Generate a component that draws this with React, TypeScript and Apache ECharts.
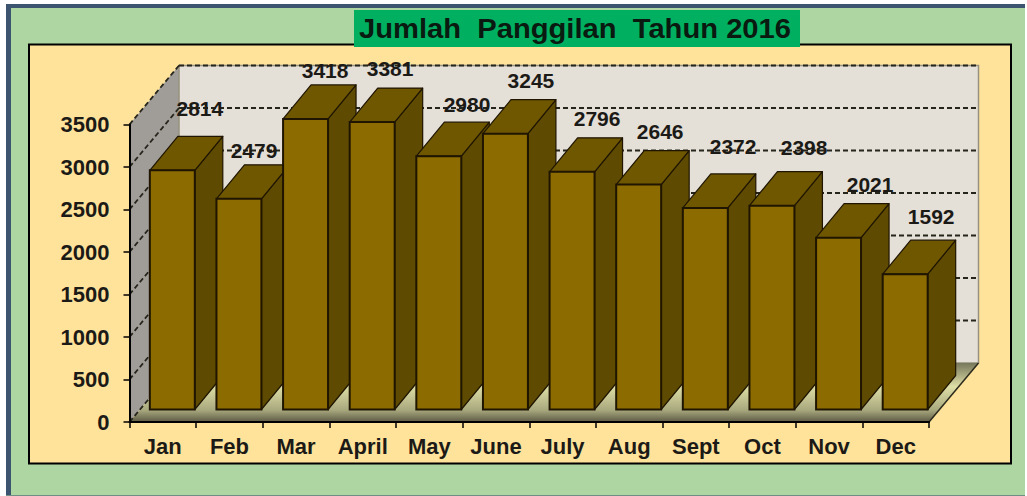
import React, { useEffect, useRef } from "react";
import * as echarts from "echarts";

const months = ["Jan", "Feb", "Mar", "April", "May", "June", "July", "Aug", "Sept", "Oct", "Nov", "Dec"];
const calls = [2814, 2479, 3418, 3381, 2980, 3245, 2796, 2646, 2372, 2398, 2021, 1592];
const gridValues = [0, 500, 1000, 1500, 2000, 2500, 3000, 3500];
const titleText = "Jumlah  Panggilan  Tahun 2016";

// label placement relative to each bar's front-plane top (hand placed in the original)
const labelNudgeX = [37, 24.6, 29, 27.4, 37.7, 35, 34.5, 31, 37.3, 41.7, 41, 35.5];
const labelNudgeY = [-74, -60.6, -60.5, -66.6, -64.7, -65.2, -66.3, -66, -73.4, -70.2, -66, -69.7];

const FONT = '"Liberation Sans", Arial, sans-serif';
const WALL_DX = 49.5;
const WALL_DY = -59;
const BAR_DX = 28;
const BAR_DY = -34;
const BAR_SHIFT_X = 9.5;
const BAR_SHIFT_Y = -12.5;
const BAR_RATIO = 0.675;
const EDGE = "#1f1500";

function renderWalls(params: any) {
  const c = params.coordSys;
  const x0 = c.x, x1 = c.x + c.width, yTop = c.y, yBase = c.y + c.height;
  return {
    type: "group",
    children: [
      {
        type: "polygon",
        shape: { points: [[x0, yTop], [x0 + WALL_DX, yTop + WALL_DY], [x0 + WALL_DX, yBase + WALL_DY], [x0, yBase]] },
        style: { fill: "#a09c97" },
      },
      {
        type: "rect",
        shape: { x: x0 + WALL_DX, y: yTop + WALL_DY, width: c.width, height: c.height },
        style: { fill: "#e4dfd7", stroke: "#97917f", lineWidth: 1.5 },
      },
      {
        type: "polygon",
        shape: { points: [[x0, yBase], [x0 + WALL_DX, yBase + WALL_DY], [x1 + WALL_DX, yBase + WALL_DY], [x1, yBase]] },
        style: {
          fill: {
            type: "linear", x: 0, y: 0, x2: 0, y2: 1,
            colorStops: [
              { offset: 0, color: "#77775c" },
              { offset: 0.4, color: "#dedea6" },
              { offset: 0.8, color: "#a8a87e" },
              { offset: 1, color: "#5c5a44" },
            ],
          },
        },
      },
      {
        type: "line",
        shape: { x1, y1: yBase, x2: x1 + WALL_DX, y2: yBase + WALL_DY },
        style: { stroke: "#2c2a1c", lineWidth: 1.5 },
      },
    ],
  };
}

function renderGridLine(params: any, api: any) {
  const c = params.coordSys;
  const y = api.coord([0, api.value(1)])[1];
  const x0 = c.x, x1 = c.x + c.width;
  const v = api.value(1);
  const style = { stroke: "#25251c", lineWidth: 1.8, lineDash: [5, 3], fill: "none" };
  const diag = { type: "line", shape: { x1: x0, y1: y, x2: x0 + WALL_DX, y2: y + WALL_DY }, style };
  if (v === 0) return { type: "group", children: [diag] };
  return {
    type: "group",
    children: [
      diag,
      { type: "line", shape: { x1: x0 + WALL_DX, y1: y + WALL_DY, x2: x1 + WALL_DX, y2: y + WALL_DY }, style },
    ],
  };
}

function renderBar(_params: any, api: any) {
  const i = api.value(0);
  const top = api.coord([i, api.value(1)]);
  const base = api.coord([i, 0]);
  const w = api.size([1, 0])[0] * BAR_RATIO;
  const l = top[0] - w / 2 + BAR_SHIFT_X;
  const r = l + w;
  const t = top[1] + BAR_SHIFT_Y;
  const b = base[1] + BAR_SHIFT_Y;
  const edge = { stroke: EDGE, lineWidth: 1.2, lineJoin: "round" };
  return {
    type: "group",
    children: [
      {
        type: "polygon",
        shape: { points: [[r, t], [r + BAR_DX, t + BAR_DY], [r + BAR_DX, b + BAR_DY], [r, b]] },
        style: { fill: "#5e4a00", ...edge },
      },
      {
        type: "polygon",
        shape: { points: [[l, t], [l + BAR_DX, t + BAR_DY], [r + BAR_DX, t + BAR_DY], [r, t]] },
        style: { fill: "#6f5700", ...edge },
      },
      {
        type: "rect",
        shape: { x: l, y: t, width: w, height: b - t },
        style: { fill: "#8c6c00", stroke: EDGE, lineWidth: 2 },
      },
    ],
  };
}

function renderLabel(_params: any, api: any) {
  const i = api.value(0);
  const v = api.value(1);
  const p = api.coord([i, v]);
  return {
    type: "text",
    style: {
      text: String(v),
      x: p[0] + labelNudgeX[i],
      y: p[1] + labelNudgeY[i],
      align: "center",
      verticalAlign: "middle",
      fontFamily: FONT,
      fontWeight: "bold",
      fontSize: 21,
      fill: "#1c1a16",
    },
  };
}

export default function App() {
  const ref = useRef<HTMLDivElement>(null);
  useEffect(() => {
    const chart = echarts.init(ref.current!, undefined, { renderer: "svg" });
    const indexed = calls.map((v, i) => [i, v]);
    chart.setOption({
      animation: false,
      backgroundColor: "#ffffff",
      graphic: [
        { type: "rect", z: -3, shape: { x: 6, y: 4, width: 1019, height: 492 }, style: { fill: "#3d5470" } },
        { type: "rect", z: -2, shape: { x: 11, y: 8, width: 1014, height: 487 }, style: { fill: "#aed6a2" } },
        { type: "rect", z: -2, shape: { x: 6, y: 495, width: 1019, height: 1 }, style: { fill: "#6f8f86" } },
        { type: "rect", z: -1, shape: { x: 29, y: 44.5, width: 982, height: 419 }, style: { fill: "#ffe39b", stroke: "#000000", lineWidth: 2 } },
        { type: "rect", z: 20, shape: { x: 354, y: 10, width: 446, height: 37 }, style: { fill: "#00b060" } },
        {
          type: "text", z: 21, x: 575, y: 29, scaleX: 1.08,
          style: {
            text: titleText, x: 0, y: 0, align: "center", verticalAlign: "middle",
            fontFamily: FONT, fontWeight: "bold", fontSize: 27, fill: "#0a1a10",
          },
        },
      ],
      grid: { left: 129.5, top: 124.5, width: 799.5, height: 297.5, containLabel: false },
      xAxis: {
        type: "category",
        data: months,
        z: 10,
        axisLine: { lineStyle: { color: "#000000", width: 2 } },
        axisTick: { show: true, alignWithLabel: false, length: 6, lineStyle: { color: "#000000", width: 1.5 } },
        axisLabel: { interval: 0, margin: 13, color: "#1c1a16", fontFamily: FONT, fontWeight: "bold", fontSize: 22 },
        splitLine: { show: false },
      },
      yAxis: {
        type: "value",
        min: 0,
        max: 3500,
        interval: 500,
        z: 10,
        axisLine: { show: true, lineStyle: { color: "#000000", width: 2 } },
        axisTick: { show: true, length: 6, lineStyle: { color: "#000000", width: 1.5 } },
        axisLabel: { margin: 20, color: "#1c1a16", fontFamily: FONT, fontWeight: "bold", fontSize: 22, formatter: (v: number) => String(v) },
        splitLine: { show: false },
      },
      series: [
        { type: "custom", name: "walls", silent: true, z: 1, data: [[0, 0]], renderItem: renderWalls },
        { type: "custom", name: "grid", silent: true, z: 2, data: gridValues.map((v) => [0, v]), renderItem: renderGridLine },
        { type: "custom", name: "Jumlah Panggilan", silent: true, z: 3, data: indexed, renderItem: renderBar },
        { type: "custom", name: "labels", silent: true, z: 4, data: indexed, renderItem: renderLabel },
      ],
    });
    return () => chart.dispose();
  }, []);
  return <div ref={ref} style={{ position: "fixed", left: 0, top: 0, width: 1027, height: 496 }} />;
}
